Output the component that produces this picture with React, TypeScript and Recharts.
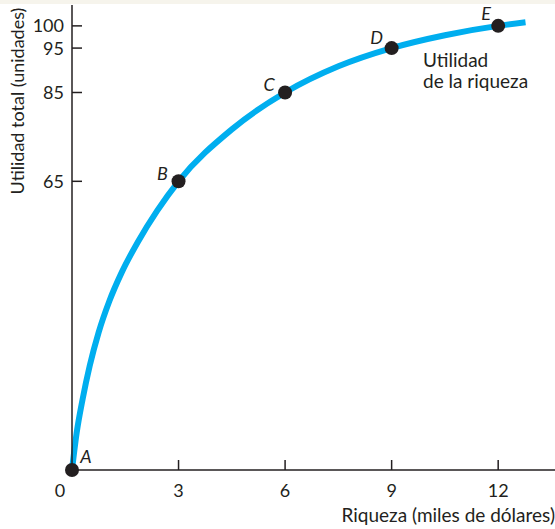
import React from 'react';
import { ComposedChart, Line, Scatter, XAxis, YAxis } from 'recharts';

// curve (riqueza, utilidad)
const curveX = [0, 0.13, 0.3, 0.5, 0.75, 1.05, 1.4, 1.85, 2.4, 3, 4.5, 6, 7.5, 9, 10.5, 12, 12.77];
const curveY = [0, 8.3, 16, 23.5, 31, 38, 44.5, 51.3, 58.4, 65, 76.7, 85, 90.9, 95, 97.9, 100, 100.8];

const pointNames = ['A', 'B', 'C', 'D', 'E'];
const pointX = [0, 3, 6, 9, 12];
const pointY = [0, 65, 85, 95, 100];

const xTicks = [0, 3, 6, 9, 12];
const yTicks = [65, 85, 95, 100];

const curveData = curveX.map((x, i) => ({ x, y: curveY[i] }));
const pointData = pointNames.map((name, i) => ({ name, x: pointX[i], y: pointY[i] }));

const INK = '#231f20';
const BLUE = '#00aeef';
const FONT = 'Lato, "Open Sans", sans-serif';

const labelOffset: Record<string, [number, number]> = {
  A: [14, -14],
  B: [-16, -8],
  C: [-16, -8],
  D: [-15, -11],
  E: [-12, -12],
};

const XTick = (props: any) => {
  const { x, y, payload } = props;
  const shift = payload.value === 0 ? -12 : 0;
  return (
    <g>
      {payload.value !== 0 && <line x1={x} x2={x} y1={y} y2={y - 10} stroke={INK} strokeWidth={1.5} />}
      <text x={x + shift} y={y + 27} textAnchor="middle" fontSize={18} fill={INK} fontFamily={FONT}>
        {payload.value}
      </text>
    </g>
  );
};

const YTick = (props: any) => {
  const { x, y, payload } = props;
  return (
    <g>
      <line x1={x} x2={x + 10} y1={y} y2={y} stroke={INK} strokeWidth={1.5} />
      <text x={x - 8} y={y + 6.5} textAnchor="end" fontSize={18} fill={INK} fontFamily={FONT}>
        {payload.value}
      </text>
    </g>
  );
};

const PointShape = (props: any) => {
  const { cx, cy, payload } = props;
  const [dx, dy] = labelOffset[payload.name] || [0, 0];
  return (
    <g>
      <circle cx={cx} cy={cy} r={7} fill={INK} />
      <text
        x={cx + dx}
        y={cy + dy + 6.5}
        textAnchor="middle"
        fontSize={18}
        fontStyle="italic"
        fill={INK}
        fontFamily={FONT}
      >
        {payload.name}
      </text>
    </g>
  );
};

export default function App() {
  return (
    <div style={{ position: 'absolute', left: 0, top: 0, width: 555, height: 529, background: '#fff' }}>
      <div style={{ position: 'absolute', left: 0, top: 0, width: 555, height: 4, background: '#f6f4ec' }} />
      <ComposedChart width={555} height={529} margin={{ top: 5, right: 0, bottom: 29, left: 12 }}>
        <XAxis
          type="number"
          dataKey="x"
          domain={[0, 13.6]}
          ticks={xTicks}
          interval={0}
          tick={<XTick />}
          tickLine={false}
          tickSize={0}
          tickMargin={0}
          height={30}
          axisLine={{ stroke: INK, strokeWidth: 1.5 }}
          label={{
            content: (p: any) => (
              <text
                x={p.viewBox.x + p.viewBox.width}
                y={p.viewBox.y + 52}
                textAnchor="end"
                fontSize={19}
                fill={INK}
                fontFamily={FONT}
              >
                Riqueza (miles de dólares)
              </text>
            ),
          }}
        />
        <YAxis
          type="number"
          dataKey="y"
          domain={[0, 104.7]}
          ticks={yTicks}
          interval={0}
          tick={<YTick />}
          tickLine={false}
          tickSize={0}
          tickMargin={0}
          width={60}
          axisLine={{ stroke: INK, strokeWidth: 1.5 }}
          label={{
            content: (p: any) => (
              <text
                x={0}
                y={0}
                transform={`translate(${p.viewBox.x + 5}, 101) rotate(-90)`}
                textAnchor="middle"
                dominantBaseline="central"
                fontSize={18}
                fill={INK}
                fontFamily={FONT}
              >
                Utilidad total (unidades)
              </text>
            ),
          }}
        />
        <Line
          data={curveData}
          dataKey="y"
          type="monotone"
          stroke={BLUE}
          strokeWidth={6}
          dot={false}
          isAnimationActive={false}
        />
        <Scatter data={pointData} dataKey="y" shape={<PointShape />} isAnimationActive={false} />
      </ComposedChart>
      <div
        style={{
          position: 'absolute',
          left: 423,
          top: 49,
          fontFamily: FONT,
          fontSize: 19,
          lineHeight: '21px',
          color: INK,
        }}
      >
        Utilidad
        <br />
        de la riqueza
      </div>
    </div>
  );
}
